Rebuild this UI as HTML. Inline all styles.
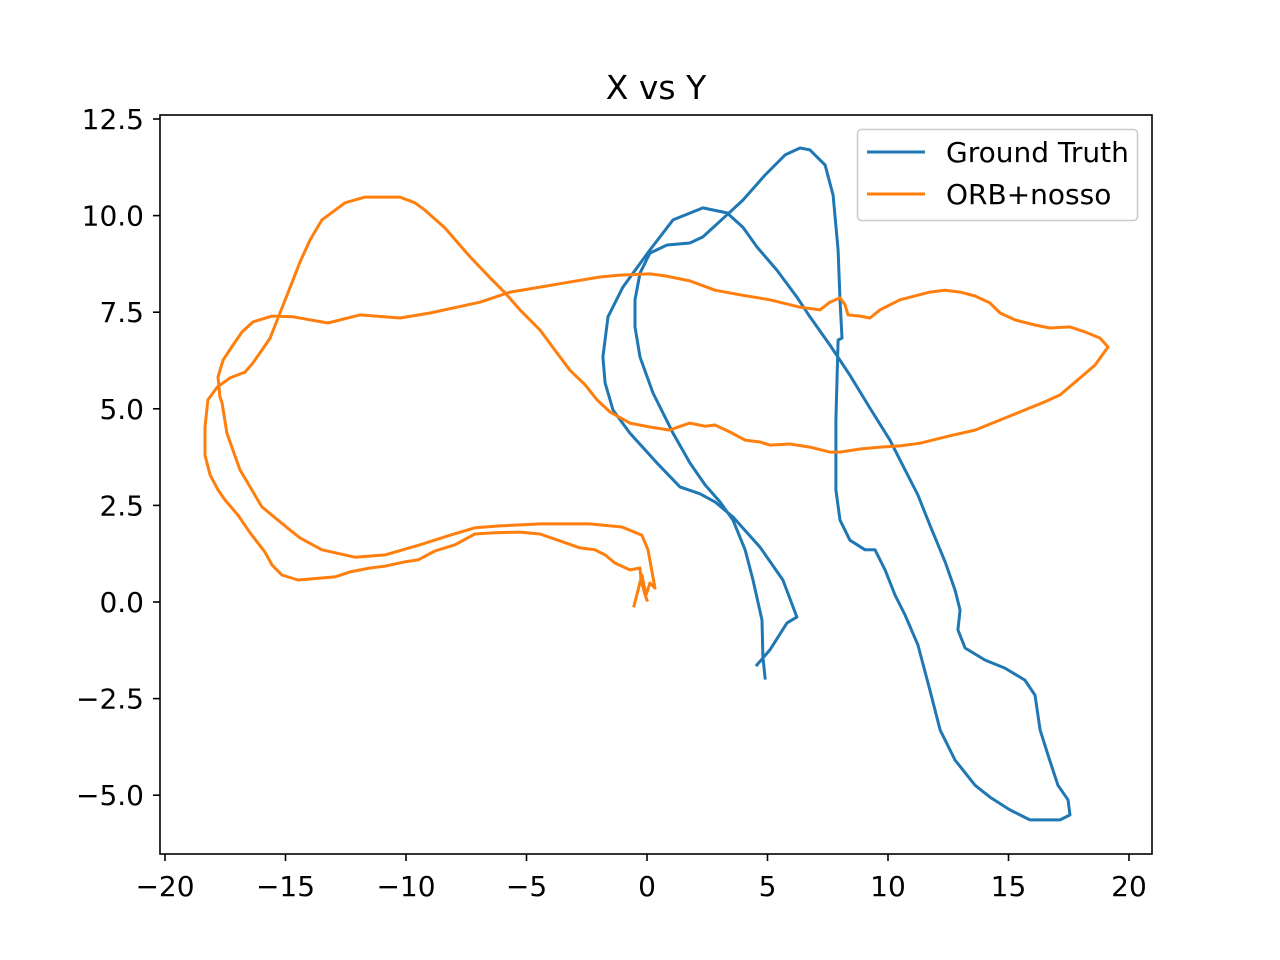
<!DOCTYPE html>
<html><head><meta charset="utf-8"><style>
body{margin:0;background:#fff;}
svg{display:block;font-family:"DejaVu Sans","Liberation Sans",sans-serif;}
</style></head><body>
<svg id="chart" width="1280" height="960">
<rect x="0" y="0" width="1280" height="960" fill="#fff"/>
<text x="656" y="99" font-size="33" text-anchor="middle">X vs Y</text>
<g id="ticks"></g>
<g id="series"></g>
<rect x="160" y="115" width="992" height="739" fill="none" stroke="#000" stroke-width="1.6"/>
<g>
<rect x="857.5" y="129.5" width="280" height="91" rx="4" fill="#fff" fill-opacity="0.8" stroke="#ccc" stroke-width="1.6"/>
<line x1="867" y1="152" x2="925" y2="152" stroke="#1f77b4" stroke-width="3"/>
<text x="946" y="162" font-size="28">Ground Truth</text>
<line x1="867" y1="194" x2="925" y2="194" stroke="#ff7f0e" stroke-width="3"/>
<text x="946" y="204" font-size="28">ORB+nosso</text>
</g>
</svg>
<script>
const xTicks=[-20,-15,-10,-5,0,5,10,15,20];
const yTicks=[-5.0,-2.5,0.0,2.5,5.0,7.5,10.0,12.5];
const gtX=[4.90,4.81,4.77,4.40,4.07,3.57,3.03,2.41,1.78,1.08,0.25,-0.29,-0.50,-0.50,-0.29,0.12,0.83,1.78,2.32,3.32,3.98,4.90,5.73,6.35,6.76,7.39,7.72,7.93,8.01,8.09,7.93,7.84,7.84,8.01,8.42,9.05,9.46,9.88,10.29,10.71,11.24,11.74,12.16,12.78,13.61,14.23,15.06,15.89,17.14,17.55,17.47,17.05,16.64,16.31,16.10,15.68,14.85,14.02,13.20,12.90,12.99,12.78,12.37,11.74,11.24,10.71,10.08,9.25,8.42,7.59,6.76,6.22,5.39,4.56,3.98,3.32,2.32,1.08,0.12,-1.00,-1.62,-1.83,-1.74,-1.41,-0.71,0.41,1.37,2.20,2.82,3.57,4.69,5.64,6.22,5.81,5.10,4.56];
const gtY=[-1.97,-1.42,-0.47,0.57,1.35,2.12,2.59,3.03,3.60,4.37,5.41,6.34,7.12,7.82,8.51,9.03,9.24,9.29,9.45,10.02,10.40,11.05,11.57,11.75,11.70,11.31,10.53,9.11,7.82,6.83,6.78,4.71,2.90,2.12,1.60,1.35,1.35,0.83,0.18,-0.34,-1.11,-2.28,-3.31,-4.09,-4.74,-5.05,-5.38,-5.64,-5.64,-5.51,-5.12,-4.74,-3.96,-3.31,-2.41,-2.02,-1.71,-1.50,-1.19,-0.72,-0.21,0.31,1.04,1.99,2.77,3.42,4.19,5.02,5.87,6.65,7.38,7.89,8.59,9.19,9.70,10.07,10.20,9.89,9.11,8.15,7.38,6.34,5.67,4.97,4.37,3.60,2.98,2.80,2.59,2.20,1.42,0.57,-0.39,-0.54,-1.24,-1.63];
const orbX=[-0.54,-0.37,-0.21,-0.04,0.12,0.33,0.04,-0.21,-1.04,-2.37,-4.44,-6.10,-7.14,-8.17,-9.42,-10.87,-12.12,-13.49,-14.40,-14.81,-15.98,-16.89,-17.43,-17.63,-17.72,-17.80,-17.59,-17.18,-16.80,-16.35,-15.56,-14.69,-13.24,-11.91,-10.25,-9.00,-6.93,-5.68,-4.44,-3.40,-1.95,-1.12,0.12,0.75,1.78,2.82,3.86,5.10,6.35,7.18,7.59,8.01,8.22,8.34,8.84,9.25,9.67,10.50,11.74,12.37,12.99,13.61,14.23,14.65,15.27,16.10,16.72,17.55,18.17,18.80,19.13,18.59,17.97,17.14,16.51,15.48,14.65,13.61,12.57,11.33,10.50,9.67,8.84,8.01,7.59,6.76,5.93,5.10,4.69,4.07,3.44,2.82,2.41,1.78,1.16,0.95,0.12,-0.71,-1.54,-2.07,-2.57,-3.20,-3.82,-4.44,-5.27,-5.89,-6.51,-7.34,-8.38,-9.21,-9.63,-10.25,-11.70,-12.53,-13.49,-13.98,-14.40,-14.69,-15.23,-15.64,-15.98,-16.35,-16.68,-17.30,-17.84,-18.22,-18.34,-18.34,-18.13,-17.80,-17.51,-16.97,-16.47,-15.85,-15.56,-15.15,-14.48,-12.95,-12.32,-11.49,-10.87,-10.04,-9.50,-8.80,-7.97,-7.14,-6.31,-5.27,-4.44,-3.61,-2.78,-2.16,-1.74,-1.33,-0.71,-0.29,-0.25,-0.08,0.00];
const orbY=[-0.10,0.31,0.70,0.18,0.49,0.36,1.35,1.73,1.94,2.02,2.02,1.97,1.92,1.73,1.48,1.22,1.16,1.35,1.66,1.86,2.46,3.42,4.37,5.15,5.31,5.82,6.26,6.65,6.99,7.25,7.40,7.38,7.22,7.43,7.35,7.48,7.76,8.02,8.15,8.26,8.41,8.46,8.49,8.44,8.31,8.07,7.95,7.82,7.63,7.56,7.76,7.87,7.69,7.43,7.40,7.35,7.56,7.82,8.02,8.07,8.02,7.92,7.74,7.48,7.30,7.17,7.09,7.12,6.99,6.83,6.60,6.13,5.80,5.36,5.18,4.92,4.71,4.45,4.30,4.11,4.04,4.01,3.96,3.88,3.88,4.01,4.09,4.06,4.14,4.19,4.40,4.58,4.55,4.63,4.50,4.45,4.53,4.63,4.92,5.23,5.62,6.00,6.52,7.04,7.56,8.00,8.39,8.93,9.68,10.14,10.33,10.48,10.48,10.33,9.89,9.37,8.80,8.33,7.48,6.83,6.52,6.19,5.95,5.80,5.56,5.23,4.53,3.80,3.29,2.90,2.64,2.25,1.79,1.29,0.96,0.70,0.57,0.65,0.78,0.88,0.93,1.04,1.09,1.32,1.48,1.76,1.79,1.81,1.76,1.58,1.40,1.35,1.22,1.01,0.83,0.88,0.57,0.18,0.05];
const NS="http://www.w3.org/2000/svg";
function sx(v){return 647+v*24.1;}
function sy(v){return 602-v*38.64;}
const tg=document.getElementById('ticks');
xTicks.forEach(t=>{
  const l=document.createElementNS(NS,'line');
  l.setAttribute('x1',sx(t));l.setAttribute('x2',sx(t));l.setAttribute('y1',854);l.setAttribute('y2',861);
  l.setAttribute('stroke','#000');l.setAttribute('stroke-width','1.6');
  
  
  tg.appendChild(l);
  const tx=document.createElementNS(NS,'text');
  tx.setAttribute('x',sx(t));tx.setAttribute('y',896);tx.setAttribute('font-size','28');tx.setAttribute('text-anchor','middle');
  tx.textContent=(t<0?'\u2212':'')+Math.abs(t);
  
  
  tg.appendChild(tx);
});
yTicks.forEach(t=>{
  const l=document.createElementNS(NS,'line');
  l.setAttribute('x1',153);l.setAttribute('x2',160);l.setAttribute('y1',sy(t));l.setAttribute('y2',sy(t));
  l.setAttribute('stroke','#000');l.setAttribute('stroke-width','1.6');
  
  
  tg.appendChild(l);
  const tx=document.createElementNS(NS,'text');
  tx.setAttribute('x',144);tx.setAttribute('y',sy(t)+10);tx.setAttribute('font-size','28');tx.setAttribute('text-anchor','end');
  tx.textContent=(t<0?'\u2212':'')+Math.abs(t).toFixed(1);
  
  
  tg.appendChild(tx);
});
const sg=document.getElementById('series');
function draw(xs,ys,color,name){
  const p=document.createElementNS(NS,'polyline');
  p.setAttribute('points',xs.map((x,i)=>sx(x).toFixed(1)+','+sy(ys[i]).toFixed(1)).join(' '));
  p.setAttribute('fill','none');p.setAttribute('stroke',color);p.setAttribute('stroke-width','3');
  p.setAttribute('stroke-linejoin','round');p.setAttribute('stroke-linecap','square');
  
  
  sg.appendChild(p);
}
draw(gtX,gtY,'#1f77b4','ground-truth-line');
draw(orbX,orbY,'#ff7f0e','orb-nosso-line');
</script>
</body></html>
